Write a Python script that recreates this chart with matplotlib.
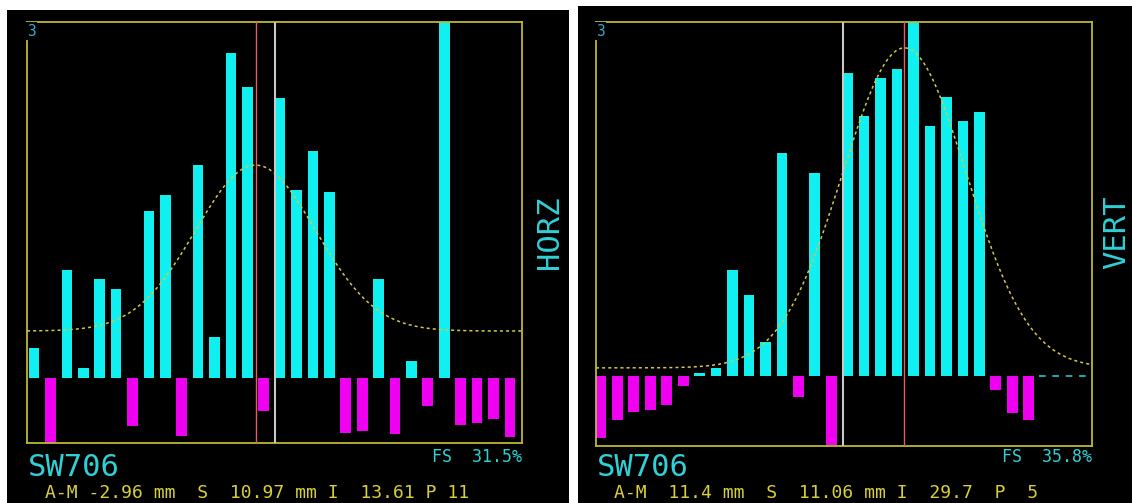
import numpy as np
import matplotlib
matplotlib.use('Agg')
import matplotlib.pyplot as plt
from matplotlib.patches import Rectangle

W, H = 1132, 503

# slot index along the beam (30 slots per view)
slots = np.arange(30)

# HORZ view: bars above the zero line (cyan) and below it (magenta), % of full scale
horz_up = [8.4, 0, 30.3, 2.8, 27.8, 25.0, 0, 46.9, 51.4, 0,
           59.8, 11.5, 91.3, 81.7, 0, 78.7, 52.8, 63.8, 52.2, 0,
           0, 27.8, 0, 4.8, 0, 100, 0, 0, 0, 0]
horz_down = [0, -18.3, 0, 0, 0, 0, -13.5, 0, 0, -16.3,
             0, 0, 0, 0, -9.3, 0, 0, 0, 0, -15.4,
             -14.9, 0, -15.7, 0, -7.9, 0, -13.2, -12.6, -11.5, -16.6]
horz_fit = dict(mean=13.5, sigma=3.66, peak=59.8, base=13.2)
horz_ref = 14.69
horz_stats = ["A-M -2.96 mm  S  10.97 mm I  13.61 P 11", "FS  31.5%"]

# VERT view
vert_up = [0, 0, 0, 0, 0, 0, 0.9, 2.3, 29.9, 22.9,
           9.6, 63.0, 0, 57.3, 0, 85.6, 73.4, 84.2, 86.7, 100,
           70.6, 78.8, 72.0, 74.6, 0, 0, 0, 0, 0, 0]
vert_down = [-17.5, -12.4, -10.2, -9.6, -8.2, -2.8, 0, 0, 0, 0,
             0, 0, -5.9, 0, -19.5, 0, 0, 0, 0, 0,
             0, 0, 0, 0, -4.0, -10.5, -12.4, 0, 0, 0]
vert_fit = dict(mean=18.45, sigma=3.77, peak=92.7, base=2.3)
vert_ref = 14.71
vert_stats = ["A-M  11.4 mm  S  11.06 mm I  29.7  P  5", "FS  35.8%"]

CYAN = '#10f0f0'
MAGENTA = '#f000f0'
FRAME = '#bdb734'
TXT_CYAN = '#30d0d8'
TXT_YEL = '#d8d038'
MONO = 'DejaVu Sans Mono'


def fx(x):
    return x / W


def fy(y):
    return 1 - y / H


fig = plt.figure(figsize=(W / 100, H / 100), dpi=100, facecolor='white')

# black screen areas
for x0, y0, x1 in [(7, 10, 569), (578, 6, 1132)]:
    fig.add_artist(Rectangle((fx(x0), 0), fx(x1 - x0), fy(y0), transform=fig.transFigure,
                             facecolor='black', edgecolor='none', zorder=0))

panels = [
    # frame px (left, top, right, bottom), axis limits, data and labels
    dict(frame=(27, 22, 522, 443), xlim=(-0.43, 29.74), ylim=(-18.26, 100),
         up=horz_up, down=horz_down, fit=horz_fit, ref=horz_ref, stats=horz_stats,
         label='HORZ', label_x=550, tail=False),
    dict(frame=(596, 22, 1092, 446), xlim=(-0.30, 29.85), ylim=(-19.77, 100),
         up=vert_up, down=vert_down, fit=vert_fit, ref=vert_ref, stats=vert_stats,
         label='VERT', label_x=1117, tail=True),
]

for p in panels:
    l, t, r, b = p['frame']
    ax = fig.add_axes([fx(l), fy(b), fx(r - l), (b - t) / H])
    ax.set_facecolor('black')
    ax.set_xlim(*p['xlim'])
    ax.set_ylim(*p['ylim'])
    ax.set_xticks([])
    ax.set_yticks([])
    for s in ax.spines.values():
        s.set_color(FRAME)
        s.set_linewidth(1.3)

    ax.bar(slots, p['up'], width=0.65, color=CYAN, linewidth=0, zorder=2)
    ax.bar(slots, p['down'], width=0.65, color=MAGENTA, linewidth=0, zorder=2)

    # fitted normal curve (mean / S of the view)
    f = p['fit']
    xs = np.linspace(p['xlim'][0], p['xlim'][1], 500)
    ys = f['base'] + (f['peak'] - f['base']) * np.exp(-0.5 * ((xs - f['mean']) / f['sigma']) ** 2)
    ax.plot(xs, ys, color='#d0c848', lw=1.1, linestyle=(0, (2, 2)), zorder=3)

    ax.axvline(f['mean'], color='#e06060', lw=1.0, zorder=4)
    ax.axvline(p['ref'], color='#c8c8c8', lw=1.5, zorder=4)

    if p['tail']:
        ax.plot([26.6, p['xlim'][1]], [0, 0], color='#20c8c8', lw=1.2,
                linestyle=(0, (4, 4)), zorder=3)

    # scale number in the top-left corner
    fig.text(fx(l), fy(31), '3', color='#3aa8d0', fontsize=10.5, family=MONO,
             va='center', ha='left', zorder=5,
             bbox=dict(facecolor='black', edgecolor='none', pad=1.0))

    fig.text(fx(l + 1), fy(476), 'SW706', color=TXT_CYAN, fontsize=22, family=MONO,
             va='baseline', ha='left')
    fig.text(fx(r), fy(462), p['stats'][1], color=TXT_CYAN, fontsize=12, family=MONO,
             va='baseline', ha='right')
    fig.text(fx(l + 18), fy(498), p['stats'][0], color=TXT_YEL, fontsize=13, family=MONO,
             va='baseline', ha='left')
    fig.text(fx(p['label_x']), fy(232), p['label'], color=TXT_CYAN, fontsize=22, family=MONO,
             rotation=90, va='center', ha='center')

fig.savefig('out.png', dpi=100, facecolor='white')
